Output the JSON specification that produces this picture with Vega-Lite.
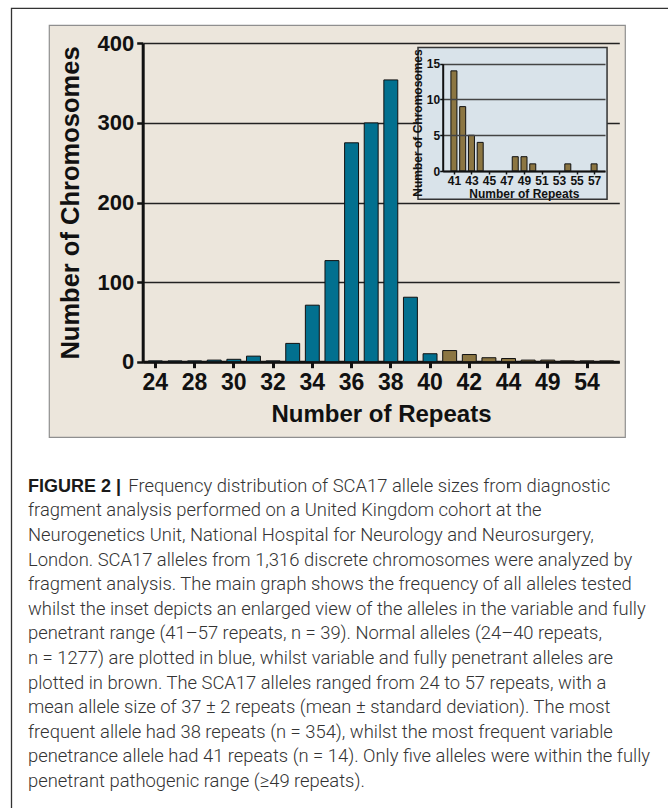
{
  "$schema": "https://vega.github.io/schema/vega-lite/v6.json",
  "width": 576,
  "height": 412,
  "autosize": {"type": "none"},
  "padding": {"left": 49, "top": 25, "right": 43, "bottom": 371},
  "background": "white",
  "config": {
    "view": {"fill": "#ece6dc", "stroke": "#8f8f8f", "strokeWidth": 1.2},
    "axis": {"labelFont": "Liberation Sans", "titleFont": "Liberation Sans", "labelColor": "#111", "titleColor": "#111", "domainColor": "#111", "tickColor": "#111"}
  },
  "datasets": {
    "alleles": [
      {"repeats": 24, "count": 1, "group": "Normal (24–40)"},
      {"repeats": 27, "count": 1, "group": "Normal (24–40)"},
      {"repeats": 28, "count": 1, "group": "Normal (24–40)"},
      {"repeats": 29, "count": 2, "group": "Normal (24–40)"},
      {"repeats": 30, "count": 3, "group": "Normal (24–40)"},
      {"repeats": 31, "count": 7, "group": "Normal (24–40)"},
      {"repeats": 32, "count": 1, "group": "Normal (24–40)"},
      {"repeats": 33, "count": 23, "group": "Normal (24–40)"},
      {"repeats": 34, "count": 71, "group": "Normal (24–40)"},
      {"repeats": 35, "count": 127, "group": "Normal (24–40)"},
      {"repeats": 36, "count": 275, "group": "Normal (24–40)"},
      {"repeats": 37, "count": 300, "group": "Normal (24–40)"},
      {"repeats": 38, "count": 354, "group": "Normal (24–40)"},
      {"repeats": 39, "count": 81, "group": "Normal (24–40)"},
      {"repeats": 40, "count": 10, "group": "Normal (24–40)"},
      {"repeats": 41, "count": 14, "group": "Variable / fully penetrant (41–57)"},
      {"repeats": 42, "count": 9, "group": "Variable / fully penetrant (41–57)"},
      {"repeats": 43, "count": 5, "group": "Variable / fully penetrant (41–57)"},
      {"repeats": 44, "count": 4, "group": "Variable / fully penetrant (41–57)"},
      {"repeats": 48, "count": 2, "group": "Variable / fully penetrant (41–57)"},
      {"repeats": 49, "count": 2, "group": "Variable / fully penetrant (41–57)"},
      {"repeats": 50, "count": 1, "group": "Variable / fully penetrant (41–57)"},
      {"repeats": 54, "count": 1, "group": "Variable / fully penetrant (41–57)"},
      {"repeats": 57, "count": 1, "group": "Variable / fully penetrant (41–57)"}
    ]
  },
  "resolve": {"scale": {"x": "independent", "y": "independent", "color": "independent"}},
  "layer": [
    {
      "data": {"values": [{}]},
      "mark": {"type": "rect", "filled": false, "color": "#333333", "strokeWidth": 1.3},
      "encoding": {
        "x": {"datum": 0, "type": "quantitative", "scale": {"domain": [0, 1], "range": [-37.5, 631], "nice": false, "zero": false}, "axis": null},
        "x2": {"datum": 1},
        "y": {"datum": 0, "type": "quantitative", "scale": {"domain": [0, 1], "range": [-16.7, 795], "nice": false, "zero": false}, "axis": null},
        "y2": {"datum": 1}
      }
    },
    {
      "data": {"name": "alleles"},
      "mark": {"type": "bar", "stroke": "#111111", "strokeWidth": 1},
      "encoding": {
        "x": {
          "field": "repeats", "type": "ordinal",
          "scale": {"range": [93.7, 570.3], "paddingInner": 0.29, "paddingOuter": 0.29},
          "axis": {
            "orient": "bottom", "offset": -75.3,
            "values": [24, 28, 30, 32, 34, 36, 38, 40, 42, 44, 49, 54],
            "title": "Number of Repeats", "titleFontSize": 24, "titleFontWeight": "bold", "titlePadding": 8,
            "labelFontSize": 23, "labelFontWeight": "bold", "labelPadding": 4, "labelAngle": 0,
            "tickSize": 6, "tickWidth": 3, "domainWidth": 3, "grid": false
          }
        },
        "y": {
          "field": "count", "type": "quantitative",
          "scale": {"domain": [0, 400], "range": [336.7, 18.3], "nice": false, "zero": true},
          "axis": {
            "orient": "left", "offset": -93.7,
            "values": [0, 100, 200, 300, 400],
            "title": "Number of Chromosomes", "titleFontSize": 25.5, "titleFontWeight": "bold", "titlePadding": 13,
            "labelFontSize": 22, "labelFontWeight": "bold", "labelPadding": 3,
            "tickSize": 6, "tickWidth": 2.5, "domainWidth": 3,
            "grid": true, "gridColor": "#222222", "gridWidth": 1.7, "gridOpacity": 1
          }
        },
        "color": {
          "field": "group", "type": "nominal",
          "scale": {"domain": ["Normal (24–40)", "Variable / fully penetrant (41–57)"], "range": ["#02708f", "#8c7642"]},
          "legend": null
        }
      }
    },
    {
      "layer": [
        {
          "data": {"values": [{}]},
          "mark": {"type": "rect", "fill": "#d9e3ea", "stroke": "#333333", "strokeWidth": 1.5},
          "encoding": {
            "x": {
              "datum": 36.9, "type": "quantitative",
              "scale": {"domain": [40.29, 57.675], "range": [393.7, 556], "nice": false, "zero": false},
              "axis": {
                "orient": "bottom", "offset": -266, "zindex": 1,
                "values": [41, 43, 45, 47, 49, 51, 53, 55, 57], "format": "d",
                "title": "Number of Repeats", "titleFontSize": 12, "titleFontWeight": "bold", "titlePadding": 2,
                "labelFontSize": 12, "labelFontWeight": "bold", "labelPadding": 1, "labelFlush": false, "labelOverlap": false,
                "tickSize": 3, "tickWidth": 1.5, "domainWidth": 2, "grid": false
              }
            },
            "x2": {"datum": 58.48},
            "y": {
              "datum": 17.27, "type": "quantitative",
              "scale": {"domain": [0, 15], "range": [146, 38.7], "nice": false, "zero": false},
              "axis": {
                "orient": "left", "offset": -393.7, "zindex": 1,
                "values": [0, 5, 10, 15],
                "title": "Number of Chromosomes", "titleFontSize": 12, "titleFontWeight": "bold", "titlePadding": 2, "titleY": 97.5,
                "labelFontSize": 12, "labelFontWeight": "bold", "labelPadding": 0,
                "tickSize": 3, "tickWidth": 1.5, "domainWidth": 2,
                "grid": true, "gridColor": "#444444", "gridWidth": 1.5, "gridOpacity": 1
              }
            },
            "y2": {"datum": -3.94}
          }
        },
        {
          "data": {"name": "alleles"},
          "transform": [{"filter": "datum.repeats >= 41"}],
          "mark": {"type": "bar", "width": 6, "fill": "#8c7642", "stroke": "#111111", "strokeWidth": 1},
          "encoding": {
            "x": {
              "field": "repeats", "type": "quantitative",
              "scale": {"domain": [40.29, 57.675], "range": [393.7, 556], "nice": false, "zero": false},
              "axis": {
                "orient": "bottom", "offset": -266, "zindex": 1,
                "values": [41, 43, 45, 47, 49, 51, 53, 55, 57], "format": "d",
                "title": "Number of Repeats", "titleFontSize": 12, "titleFontWeight": "bold", "titlePadding": 2,
                "labelFontSize": 12, "labelFontWeight": "bold", "labelPadding": 1, "labelFlush": false, "labelOverlap": false,
                "tickSize": 3, "tickWidth": 1.5, "domainWidth": 2, "grid": false
              }
            },
            "y": {
              "field": "count", "type": "quantitative",
              "scale": {"domain": [0, 15], "range": [146, 38.7], "nice": false, "zero": false},
              "axis": {
                "orient": "left", "offset": -393.7, "zindex": 1,
                "values": [0, 5, 10, 15],
                "title": "Number of Chromosomes", "titleFontSize": 12, "titleFontWeight": "bold", "titlePadding": 2, "titleY": 97.5,
                "labelFontSize": 12, "labelFontWeight": "bold", "labelPadding": 0,
                "tickSize": 3, "tickWidth": 1.5, "domainWidth": 2,
                "grid": true, "gridColor": "#444444", "gridWidth": 1.5, "gridOpacity": 1
              }
            }
          }
        }
      ]
    },
    {
      "layer": [
        {
          "data": {"values": [{"line": 1, "text": "FIGURE 2 |"}]},
          "mark": {"type": "text", "align": "left", "baseline": "alphabetic", "font": "Liberation Sans", "fontWeight": "bold", "fontSize": 18, "color": "#1a1a1a"},
          "encoding": {
            "x": {"datum": 0, "type": "quantitative", "scale": {"domain": [0, 1], "range": [-21, 619], "nice": false, "zero": false}, "axis": null},
            "y": {"field": "line", "type": "quantitative", "scale": {"domain": [1, 13], "range": [466.7, 761.9], "nice": false, "zero": false}, "axis": null},
            "text": {"field": "text"}
          }
        },
        {
          "data": {"values": [{"line": 1, "text": "Frequency distribution of SCA17 allele sizes from diagnostic"}]},
          "mark": {"type": "text", "align": "left", "baseline": "alphabetic", "dx": 100.3, "font": "Roboto", "fontWeight": 300, "fontSize": 18.4, "color": "#333333"},
          "encoding": {
            "x": {"datum": 0, "type": "quantitative", "axis": null},
            "y": {"field": "line", "type": "quantitative", "axis": null},
            "text": {"field": "text"}
          }
        },
        {
          "data": {"values": [
            {"line": 2, "text": "fragment analysis performed on a United Kingdom cohort at the"},
            {"line": 3, "text": "Neurogenetics Unit, National Hospital for Neurology and Neurosurgery,"},
            {"line": 4, "text": "London. SCA17 alleles from 1,316 discrete chromosomes were analyzed by"},
            {"line": 5, "text": "fragment analysis. The main graph shows the frequency of all alleles tested"},
            {"line": 6, "text": "whilst the inset depicts an enlarged view of the alleles in the variable and fully"},
            {"line": 7, "text": "penetrant range (41–57 repeats, n = 39). Normal alleles (24–40 repeats,"},
            {"line": 8, "text": "n = 1277) are plotted in blue, whilst variable and fully penetrant alleles are"},
            {"line": 9, "text": "plotted in brown. The SCA17 alleles ranged from 24 to 57 repeats, with a"},
            {"line": 10, "text": "mean allele size of 37 ± 2 repeats (mean ± standard deviation). The most"},
            {"line": 11, "text": "frequent allele had 38 repeats (n = 354), whilst the most frequent variable"},
            {"line": 12, "text": "penetrance allele had 41 repeats (n = 14). Only five alleles were within the fully"},
            {"line": 13, "text": "penetrant pathogenic range (≥49 repeats)."}
          ]},
          "mark": {"type": "text", "align": "left", "baseline": "alphabetic", "font": "Roboto", "fontWeight": 300, "fontSize": 18.4, "color": "#333333"},
          "encoding": {
            "x": {"datum": 0, "type": "quantitative", "axis": null},
            "y": {"field": "line", "type": "quantitative", "axis": null},
            "text": {"field": "text"}
          }
        }
      ]
    }
  ]
}
